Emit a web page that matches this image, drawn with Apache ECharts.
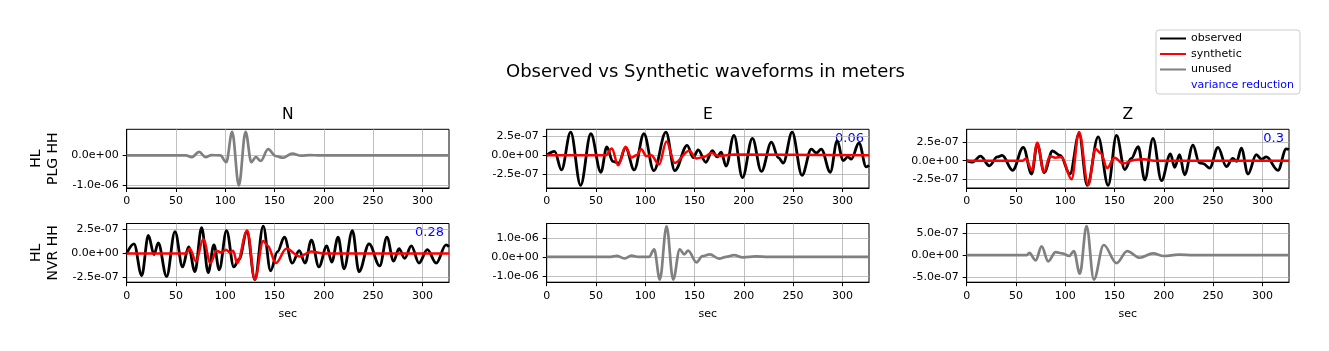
<!DOCTYPE html>
<html>
<head>
<meta charset="utf-8">
<title>Observed vs Synthetic waveforms</title>
<script src="https://cdn.jsdelivr.net/npm/echarts@6/dist/echarts.min.js"></script>
<style>
  html, body { margin: 0; padding: 0; background: #fff; }
  #chart { width: 1329px; height: 351px; }
</style>
</head>
<body>
<div id="chart"></div>
<script>
// amplitudes are in units of 1e-7 m, time in sec; points are the peaks/troughs of each trace
const components = ['N', 'E', 'Z']
const stations = ['HL\nPLG HH', 'HL\nNVR HH']
const secTicks = [0, 50, 100, 150, 200, 250, 300]
const varianceReduction = ['', '0.06', '0.3', '0.28', '', '']

// PLG  N  (unused)
const plgN_unused = [[0,0],[60,0],[66,-0.6],[73.5,1.2],[80,-0.6],[86,0.1],[95,0],[101,-2.3],[107,7.9],[113.8,-10.1],[120.6,7.9],[126.5,-2.3],[131,-0.6],[136,-1.9],[143.5,2.1],[151,-0.2],[158.5,-0.8],[168,0.6],[177,-0.1],[186,0.1],[195,0],[327,0]]
// PLG  E
const plgE_obs = [[0,0],[8,0.5],[15,-1.9],[24.3,3.0],[34.4,-3.9],[44.8,2.8],[55,-2.2],[61,1.1],[67,-0.8],[73,-1.0],[80,1.0],[88.8,-1.9],[98.6,2.8],[108.7,-2.0],[121,3.0],[130,-2.0],[142.5,1.3],[148.6,-0.3],[153.7,0.7],[161.4,-0.9],[168,0.6],[173,-0.2],[177,0.4],[182,-1.4],[190,2.6],[198.6,-2.9],[208.7,2.2],[217.8,-2.1],[228,1.7],[235,-0.3],[240,-1.0],[249,3.0],[259,-2.6],[268.5,0.8],[273.6,0.3],[278.6,0.8],[287.7,-2.2],[294.8,1.9],[300.6,-0.7],[305.6,-0.2],[309,-0.5],[316.8,1.6],[324.2,-1.5],[327,-1.3]]
const plgE_syn = [[0,0],[60,0],[66,0.9],[72.5,-1.3],[80,1.1],[86,-0.3],[91,0],[96,0.8],[101,-0.1],[106,0],[114,-1.2],[121.5,1.8],[130,-1.0],[144.5,0.6],[152,-0.4],[160,-0.2],[167,0.3],[175,-0.1],[190,0.1],[327,0]]
// PLG  Z
const plgZ_obs = [[0,0],[6,-0.2],[14,0.6],[23,-0.7],[31,0.5],[36,0.7],[46.6,-1.3],[57.4,1.8],[65.9,-1.8],[71.6,2.2],[78.7,-1.6],[87,1.3],[95,0.7],[104.7,-1.8],[114,3.6],[122.3,-3.33],[133.4,3.2],[143.5,-3.33],[152,3.4],[160.4,-1.2],[167,0.3],[174,1.9],[180.7,-2.6],[189,3.0],[197.6,-2.7],[206.7,0.9],[211,-0.9],[216,0.8],[221,-1.9],[229.6,2.1],[236,-0.3],[240,-0.4],[246.5,-1.0],[255,1.8],[263.4,-0.8],[270,0.3],[274,-0.1],[278.6,1.7],[285.4,-1.8],[293.8,0.8],[299,0.2],[304,0.5],[315.8,-1.3],[324.2,1.6],[327,1.5]]
const plgZ_syn = [[0,0],[57,0],[60,0.3],[66,-1.3],[71.6,2.4],[78.4,-1.5],[84.4,0.6],[90,0.4],[96,0.5],[106.4,-2.5],[114,3.87],[123.3,-3.3],[130.7,1.6],[136,1.0],[142.5,-1.0],[150,0.4],[158.7,-0.4],[170,0.1],[180,0.2],[190,0],[327,0]]
// NVR  N
const nvrN_obs = [[0,0],[7.4,1.0],[15.2,-2.3],[22,1.9],[27.7,-0.1],[32,1.1],[40.5,-2.4],[49,2.3],[56.7,-1.4],[62.8,0.7],[69.2,-1.9],[76,2.7],[82.7,-2.0],[88.5,0.9],[93.9,-1.7],[101.3,2.4],[108.7,-1.4],[114,-0.6],[122,2.3],[130,-2.72],[138.5,2.86],[146,-1.8],[153,0.2],[160,1.7],[168,-1.0],[175,0.3],[181,-1.0],[187.4,1.4],[195,-1.4],[203,0.8],[208,-0.9],[214.5,1.7],[220.5,-1.6],[229,2.4],[235.7,-1.9],[245.9,1.0],[256.7,-1.3],[264,1.7],[270.8,-0.8],[276.3,0.5],[282,-0.5],[288.8,0.8],[296.5,-1.0],[305,0.4],[314,-1.0],[324,0.9],[327,0.7]]
const nvrN_syn = [[0,0],[60,0],[64,0.5],[70.2,-0.8],[77.7,1.5],[85,-1.0],[91,0.3],[96,0.1],[100.6,0.4],[105,0.1],[108,0.3],[112,-1.0],[122.3,2.4],[130,-2.72],[138.5,1.3],[143,0.8],[151.3,-1.0],[162,0.5],[175.6,-0.3],[187,0.2],[200,0],[327,0]]
// NVR  E  (unused)
const nvrE_unused = [[0,0],[65,0],[71,0.5],[78.7,-0.9],[86,0.6],[93,0],[104,0],[109,3.9],[114.8,-12.0],[121.6,16.1],[128.3,-12.0],[135,3.9],[139.5,1.3],[143.5,3.2],[152,-2.9],[158,0.3],[165.5,1.3],[175,-1.0],[182,0],[190,0.9],[199,-0.3],[212,0.2],[225,0],[327,0]]
// NVR  Z  (unused)
const nvrZ_unused = [[0,0],[61,0],[63.5,0.5],[70,-1.2],[76,2.0],[82.7,-1.4],[90.2,0.7],[97,0.4],[104,-0.2],[108.7,0.9],[114.8,-4.2],[121.6,6.57],[129,-5.54],[139,2.3],[152,-1.8],[162.8,0.9],[175.6,-0.6],[189,0.4],[200,-0.2],[215,0.1],[230,0],[327,0]]

const observed = [null, plgE_obs, plgZ_obs, nvrN_obs, null, null]
const synthetic = [null, plgE_syn, plgZ_syn, nvrN_syn, null, null]
const unused = [plgN_unused, null, null, null, nvrE_unused, nvrZ_unused]
const yTicks = [[-10, 0], [-2.5, 0, 2.5], [-2.5, 0, 2.5], [-2.5, 0, 2.5], [-10, 0, 10], [-5, 0, 5]]
const yLimits = [[-11.0, 8.8], [-4.25, 3.38], [-3.69, 4.23], [-3.0, 3.14], [-13.4, 17.55], [-6.14, 7.17]]

const FONT = 'DejaVu Sans'
const colLeft = [126.7, 546.7, 966.7]
const rowTop = [129.3, 223.5]
const plotW = 322.3
const plotH = 58.7

function sci(v) {
  // matplotlib-like 2.5e-07
  return (v * 1e-7).toExponential(1).replace(/e([+-])(\d)$/, 'e$10$2')
}

const chart = echarts.init(document.getElementById('chart'))

const grids = []
const xAxes = []
const yAxes = []
const series = []
const graphics = []

for (let i = 0; i < 6; i++) {
  const r = Math.floor(i / 3)
  const c = i % 3
  grids.push({
    left: colLeft[c],
    top: rowTop[r],
    width: plotW,
    height: plotH,
    show: true,
    borderColor: '#000',
    borderWidth: 1,
    backgroundColor: 'transparent',
  })
  xAxes.push({
    gridIndex: i,
    type: 'value',
    min: 0,
    max: 327,
    name: r === 1 ? 'sec' : '',
    nameLocation: 'middle',
    nameGap: 26.5,
    nameTextStyle: { fontSize: 11, color: '#000', fontFamily: FONT },
    axisLine: { show: true, onZero: false, lineStyle: { color: '#000', width: 1 } },
    axisTick: { show: true, length: 4, customValues: secTicks, lineStyle: { color: '#000' } },
    axisLabel: { customValues: secTicks, fontSize: 11, color: '#000', fontFamily: FONT, margin: 8 },
    splitLine: { show: true, lineStyle: { color: '#b0b0b0', width: 0.8 } },
  })
  yAxes.push({
    gridIndex: i,
    type: 'value',
    min: yLimits[i][0],
    max: yLimits[i][1],
    axisLine: { show: true, onZero: false, lineStyle: { color: '#000', width: 1 } },
    axisTick: { show: true, length: 4, customValues: yTicks[i], lineStyle: { color: '#000' } },
    axisLabel: { customValues: yTicks[i], fontSize: 11, color: '#000', fontFamily: FONT, margin: 8, formatter: sci },
    splitLine: { show: true, lineStyle: { color: '#b0b0b0', width: 0.8 } },
  })

  const base = {
    type: 'line',
    xAxisIndex: i,
    yAxisIndex: i,
    symbol: 'none',
    showSymbol: false,
    smooth: 0.36,
    smoothMonotone: 'x',
    silent: true,
    animation: false,
  }
  if (unused[i]) {
    series.push({ ...base, name: 'unused', data: unused[i], color: '#808080', lineStyle: { color: '#808080', width: 2.7 } })
  }
  if (observed[i]) {
    series.push({ ...base, name: 'observed', data: observed[i], color: '#000000', lineStyle: { color: '#000000', width: 2.8 } })
  }
  if (synthetic[i]) {
    series.push({ ...base, name: 'synthetic', data: synthetic[i], color: '#ff0000', lineStyle: { color: '#ff0000', width: 2.5 } })
  }
  if (varianceReduction[i]) {
    graphics.push({
      type: 'text',
      x: colLeft[c] + plotW - 5,
      y: rowTop[r] + plotH * 0.16,
      style: { text: varianceReduction[i], fill: '#0000ff', fontSize: 13, fontFamily: FONT, align: 'right', verticalAlign: 'middle', textAlign: 'right', textVerticalAlign: 'middle' },
    })
  }
}

// dummy series so that the legend gets its fourth, text-only line
series.push({ type: 'line', name: 'variance reduction', xAxisIndex: 0, yAxisIndex: 0, data: [], color: '#0000ff' })

components.forEach((name, c) => {
  graphics.push({
    type: 'text',
    x: colLeft[c] + plotW / 2,
    y: 115,
    style: { text: name, fill: '#000', fontSize: 15.5, fontFamily: FONT, align: 'center', verticalAlign: 'middle', textAlign: 'center', textVerticalAlign: 'middle' },
  })
})

stations.forEach((name, r) => {
  graphics.push({
    type: 'text',
    x: 45,
    y: rowTop[r] + plotH / 2,
    rotation: Math.PI / 2,
    style: { text: name, fill: '#000', fontSize: 14, lineHeight: 16.5, fontFamily: FONT, align: 'center', verticalAlign: 'middle', textAlign: 'center', textVerticalAlign: 'middle' },
  })
})

graphics.push({
  type: 'text',
  x: 705.5,
  y: 72,
  style: { text: 'Observed vs Synthetic waveforms in meters', fill: '#000', fontSize: 18, fontFamily: FONT, align: 'center', verticalAlign: 'middle', textAlign: 'center', textVerticalAlign: 'middle' },
})

const option = {
  backgroundColor: '#ffffff',
  animation: false,
  textStyle: { fontFamily: FONT },
  grid: grids,
  xAxis: xAxes,
  yAxis: yAxes,
  legend: {
    orient: 'vertical',
    left: 1156,
    top: 30,
    padding: [3, 6, 3, 4],
    itemWidth: 26,
    itemHeight: 12,
    itemGap: 4.5,
    icon: 'path://M0,0L26,0L26,2L0,2Z',
    borderColor: '#cccccc',
    borderWidth: 1,
    borderRadius: 3,
    backgroundColor: 'rgba(255,255,255,0.8)',
    selectedMode: false,
    textStyle: { fontSize: 11, color: '#000', fontFamily: FONT },
    data: [
      'observed',
      'synthetic',
      'unused',
      { name: 'variance reduction', icon: 'none', textStyle: { color: '#0000ff' } },
    ],
  },
  graphic: graphics,
  series,
}

chart.setOption(option)
window.addEventListener('resize', () => chart.resize())
</script>
</body>
</html>
